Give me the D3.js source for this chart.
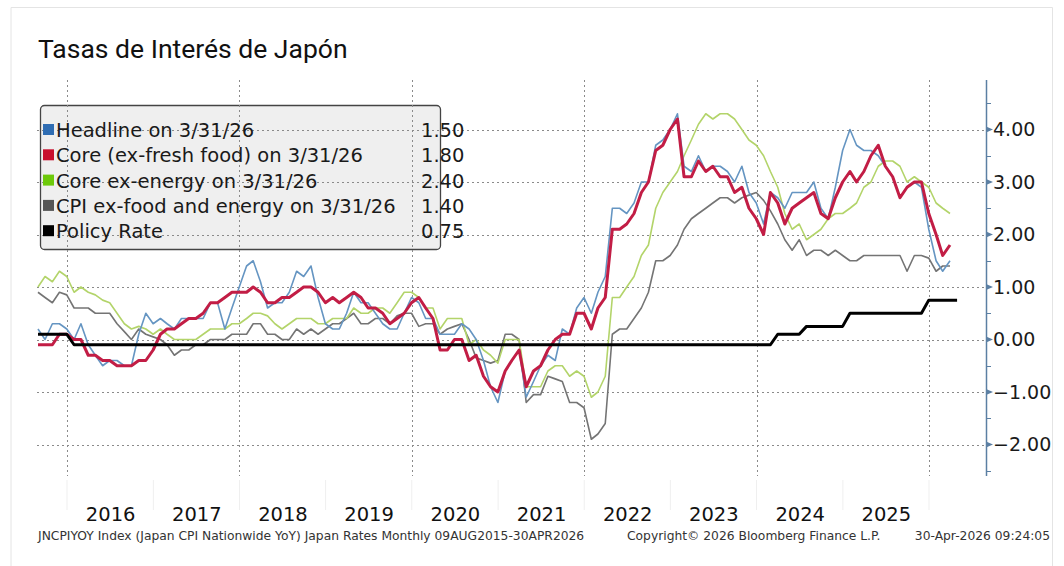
<!DOCTYPE html>
<html lang="es">
<head>
<meta charset="UTF-8">
<title>Tasas de Interés de Japón</title>
<script src="https://d3js.org/d3.v7.min.js"></script>
<style>
  body { margin: 0; background: #fff; }
  svg { display: block; }
</style>
</head>
<body>
<svg id="chart"></svg>
<script>
// monthly YoY readings, Aug 2015 .. Mar 2026 (plotted at month end)
const firstMonth = new Date(2015, 7, 1);

const headline = [
  0.2, 0.0, 0.3, 0.3, 0.2,
  0.0, 0.3, -0.1, -0.3, -0.5, -0.4, -0.4, -0.5, -0.5, 0.1, 0.5, 0.3,
  0.4, 0.3, 0.2, 0.4, 0.4, 0.4, 0.4, 0.7, 0.7, 0.2, 0.6, 1.0,
  1.4, 1.5, 1.1, 0.6, 0.7, 0.7, 0.9, 1.3, 1.2, 1.4, 0.8, 0.3,
  0.2, 0.2, 0.5, 0.9, 0.7, 0.7, 0.5, 0.3, 0.2, 0.2, 0.5, 0.8,
  0.7, 0.4, 0.4, 0.1, 0.1, 0.1, 0.3, 0.2, 0.0, -0.4, -0.9, -1.2,
  -0.6, -0.4, -0.2, -1.1, -0.8, -0.5, -0.3, -0.4, 0.2, 0.1, 0.6, 0.8,
  0.5, 0.9, 1.2, 2.5, 2.5, 2.4, 2.6, 3.0, 3.0, 3.7, 3.8, 4.0,
  4.3, 3.3, 3.2, 3.5, 3.2, 3.3, 3.3, 3.2, 3.0, 3.3, 2.8, 2.6,
  2.2, 2.8, 2.7, 2.5, 2.8, 2.8, 2.8, 3.0, 2.5, 2.3, 2.9, 3.6,
  4.0, 3.7, 3.6, 3.6, 3.5, 3.3, 3.1, 2.7, 2.9, 3.0, 2.9, 2.1,
  1.5, 1.3, 1.5
];

const coreExFresh = [
  -0.1, -0.1, -0.1, 0.1, 0.1,
  0.0, 0.0, -0.3, -0.3, -0.4, -0.4, -0.5, -0.5, -0.5, -0.4, -0.4, -0.2,
  0.1, 0.2, 0.2, 0.3, 0.4, 0.4, 0.5, 0.7, 0.7, 0.8, 0.9, 0.9,
  0.9, 1.0, 0.9, 0.7, 0.7, 0.8, 0.8, 0.9, 1.0, 1.0, 0.9, 0.7,
  0.8, 0.7, 0.8, 0.9, 0.8, 0.6, 0.6, 0.5, 0.3, 0.4, 0.5, 0.7,
  0.8, 0.6, 0.4, -0.2, -0.2, 0.0, 0.0, -0.4, -0.3, -0.7, -0.9, -1.0,
  -0.6, -0.4, -0.2, -0.9, -0.6, -0.5, -0.2, 0.0, 0.1, 0.1, 0.5, 0.5,
  0.2, 0.6, 0.8, 2.1, 2.1, 2.2, 2.4, 2.8, 3.0, 3.6, 3.7, 4.0,
  4.2, 3.1, 3.1, 3.4, 3.2, 3.3, 3.1, 3.1, 2.8, 2.9, 2.5, 2.3,
  2.0, 2.8, 2.6, 2.2, 2.5, 2.6, 2.7, 2.8, 2.4, 2.3, 2.7, 3.0,
  3.2, 3.0, 3.2, 3.5, 3.7, 3.3, 3.1, 2.7, 2.9, 3.0, 3.0, 2.4,
  2.0, 1.6, 1.8
];

const coreExEnergy = [
  1.0, 1.2, 1.1, 1.3, 1.2,
  0.9, 1.0, 0.9, 0.85, 0.75, 0.7, 0.5, 0.3, 0.2, 0.25, 0.2, 0.1,
  0.2, 0.1, 0.0, 0.0, 0.0, 0.0, 0.1, 0.2, 0.2, 0.2, 0.3, 0.3,
  0.4, 0.5, 0.5, 0.45, 0.3, 0.2, 0.3, 0.4, 0.4, 0.4, 0.3, 0.3,
  0.4, 0.4, 0.4, 0.6, 0.5, 0.5, 0.6, 0.6, 0.5, 0.7, 0.9, 0.9,
  0.8, 0.6, 0.6, 0.2, 0.4, 0.4, 0.4, -0.1, 0.0, -0.2, -0.3, -0.45,
  0.0, 0.0, 0.0, -0.9, -0.9, -0.9, -0.6, -0.5, -0.5, -0.7, -0.6, -0.7,
  -1.1, -1.0, -0.7, 0.8, 0.8, 1.0, 1.2, 1.6, 1.8, 2.5, 2.8, 3.0,
  3.2, 3.5, 3.8, 4.1, 4.3, 4.2, 4.3, 4.3, 4.2, 4.0, 3.8, 3.7,
  3.5, 3.2, 2.9, 2.4, 2.1, 2.2, 1.9, 2.0, 2.1, 2.3, 2.4, 2.4,
  2.5, 2.6, 2.9, 3.0, 3.3, 3.4, 3.4, 3.3, 3.0, 3.1, 3.0, 2.9,
  2.6, 2.5, 2.4
];

const exFoodEnergy = [
  0.9, 0.8, 0.7, 0.9, 0.85,
  0.6, 0.6, 0.6, 0.5, 0.5, 0.5, 0.3, 0.15, 0.0, 0.2, 0.1, 0.05,
  0.0, -0.1, -0.3, -0.2, -0.2, -0.1, -0.1, 0.0, 0.0, 0.0, 0.1, 0.1,
  0.1, 0.3, 0.3, 0.1, 0.1, 0.0, 0.0, 0.2, 0.1, 0.2, 0.1, 0.2,
  0.3, 0.3, 0.4, 0.5, 0.3, 0.3, 0.4, 0.4, 0.3, 0.45, 0.5, 0.5,
  0.25, 0.3, 0.3, 0.1, 0.2, 0.25, 0.3, 0.0, -0.35, -0.4, -0.45, -0.4,
  0.1, 0.1, 0.0, -1.2, -1.05, -1.05, -0.7, -0.75, -0.8, -1.2, -1.2, -1.3,
  -1.9, -1.8, -1.6, 0.1, 0.2, 0.2, 0.4, 0.6, 0.9, 1.5, 1.5, 1.6,
  1.8, 2.1, 2.3, 2.4, 2.5, 2.6, 2.7, 2.7, 2.6, 2.7, 2.75, 2.8,
  2.65, 2.45, 2.2, 1.9, 1.7, 1.9, 1.6, 1.7, 1.7, 1.6, 1.7, 1.6,
  1.5, 1.5, 1.6, 1.6, 1.6, 1.6, 1.6, 1.6, 1.3, 1.6, 1.6, 1.55,
  1.3, 1.4, 1.4
];

// BOJ policy rate, month-end values at each change
const policyRate = [
  ["2015-08", 0.1], ["2015-12", 0.1], ["2016-01", -0.1], ["2024-02", -0.1],
  ["2024-03", 0.1], ["2024-06", 0.1], ["2024-07", 0.25], ["2024-12", 0.25],
  ["2025-01", 0.5], ["2025-11", 0.5], ["2025-12", 0.75], ["2026-04", 0.75]
];

const yTicks = [-2, -1, 0, 1, 2, 3, 4];
const yMinorTicks = [-2.5, -1.5, -0.5, 0.5, 1.5, 2.5, 3.5, 4.5];
const yearLabels = [2016, 2017, 2018, 2019, 2020, 2021, 2022, 2023, 2024, 2025];
const gridYears = [2016, 2018, 2020, 2022, 2024, 2026];

const legendItems = [
  { label: "Headline on 3/31/26", value: "1.50", color: "#2f6db3" },
  { label: "Core (ex-fresh food) on 3/31/26", value: "1.80", color: "#c8102e" },
  { label: "Core ex-energy on 3/31/26", value: "2.40", color: "#6dc90a" },
  { label: "CPI ex-food and energy on 3/31/26", value: "1.40", color: "#555555" },
  { label: "Policy Rate", value: "0.75", color: "#000000" }
];

const W = 1064, H = 566;
const plot = { left: 37, right: 986, top: 80, bottom: 476 };

const svg = d3.select("#chart").attr("width", W).attr("height", H);

const x = d3.scaleTime()
  .domain([new Date(2016, 0, 1), new Date(2026, 0, 1)])
  .range([67, 929]);
const y = d3.scaleLinear().domain([0, 4]).range([339.5, 129.5]);

const monthEnd = i => d3.timeDay.offset(d3.timeMonth.offset(firstMonth, i + 1), -1);
const parseMonth = d3.timeParse("%Y-%m");

// outer frame
svg.append("path")
  .attr("d", `M11,${H} V7.5 H1052.5 V${H}`)
  .attr("fill", "none")
  .attr("stroke", "#e4e4e4")
  .attr("stroke-width", 1);

// title
svg.append("text")
  .attr("x", 38).attr("y", 58)
  .attr("font-family", "Roboto, sans-serif")
  .attr("font-size", 26.5)
  .attr("fill", "#111")
  .text("Tasas de Interés de Japón");

// legend box (grid shows through it)
const lg = { x: 40.5, y: 105.5, w: 400, h: 144 };
svg.append("rect")
  .attr("x", lg.x).attr("y", lg.y).attr("width", lg.w).attr("height", lg.h)
  .attr("rx", 4)
  .attr("fill", "#efefef")
  .attr("stroke", "#444")
  .attr("stroke-width", 1.3);

// grid
const grid = svg.append("g").attr("stroke", "#8a8a8a").attr("stroke-width", 1)
  .attr("stroke-dasharray", "2,3").attr("fill", "none");
grid.selectAll("line.h").data(yTicks).join("line")
  .attr("class", "h")
  .attr("x1", plot.left).attr("x2", plot.right)
  .attr("y1", d => Math.round(y(d)) + 0.5).attr("y2", d => Math.round(y(d)) + 0.5);
grid.selectAll("line.v").data(gridYears).join("line")
  .attr("class", "v")
  .attr("x1", d => Math.round(x(new Date(d, 0, 1))) + 0.5)
  .attr("x2", d => Math.round(x(new Date(d, 0, 1))) + 0.5)
  .attr("y1", plot.top).attr("y2", plot.bottom);

// legend entries
const legendRows = svg.append("g").selectAll("g").data(legendItems).join("g")
  .attr("transform", (d, i) => `translate(0,${130 + i * 25.3})`);
legendRows.append("rect")
  .attr("x", 43).attr("y", -6).attr("width", 11).attr("height", 11)
  .attr("fill", d => d.color);
legendRows.append("text")
  .attr("x", 56).attr("y", 0).attr("dy", "0.36em")
  .attr("font-family", "DejaVu Sans, sans-serif")
  .attr("font-size", 19.5)
  .attr("fill", "#1a1a1a")
  .text(d => d.label);
legendRows.append("text")
  .attr("x", 421).attr("y", 0).attr("dy", "0.36em")
  .attr("font-family", "DejaVu Sans, sans-serif")
  .attr("font-size", 19.5)
  .attr("fill", "#1a1a1a")
  .text(d => d.value);

// series
svg.append("clipPath").attr("id", "plotClip").append("rect")
  .attr("x", plot.left).attr("y", plot.top)
  .attr("width", plot.right - plot.left).attr("height", plot.bottom - plot.top);

const monthly = d3.line().x((d, i) => x(monthEnd(i))).y(d => y(d));
const lines = svg.append("g").attr("clip-path", "url(#plotClip)").attr("fill", "none")
  .attr("stroke-linejoin", "round");

lines.append("path").datum(exFoodEnergy).attr("d", monthly)
  .attr("stroke", "#747474").attr("stroke-width", 1.6);
lines.append("path").datum(coreExEnergy).attr("d", monthly)
  .attr("stroke", "#b3d46a").attr("stroke-width", 1.6);
lines.append("path").datum(headline).attr("d", monthly)
  .attr("stroke", "#6595c2").attr("stroke-width", 1.6);
lines.append("path").datum(coreExFresh).attr("d", monthly)
  .attr("stroke", "#c21d45").attr("stroke-width", 3);

const policyLine = d3.line()
  .x(d => x(d3.timeDay.offset(d3.timeMonth.offset(parseMonth(d[0]), 1), -1)))
  .y(d => y(d[1]));
lines.append("path").datum(policyRate).attr("d", policyLine)
  .attr("stroke", "#000").attr("stroke-width", 3);

// right axis
const axisColor = "#5b7fa3";
const ax = svg.append("g");
ax.append("line")
  .attr("x1", plot.right + 0.5).attr("x2", plot.right + 0.5)
  .attr("y1", plot.top).attr("y2", plot.bottom)
  .attr("stroke", axisColor).attr("stroke-width", 1.5);
ax.selectAll("line.minor").data(yMinorTicks).join("line")
  .attr("class", "minor")
  .attr("x1", plot.right).attr("x2", plot.right + 5)
  .attr("y1", d => Math.round(y(d)) + 0.5).attr("y2", d => Math.round(y(d)) + 0.5)
  .attr("stroke", axisColor).attr("stroke-width", 1);
ax.selectAll("path.major").data(yTicks).join("path")
  .attr("class", "major")
  .attr("d", d => { const yy = y(d); return `M${plot.right},${yy - 3} L${plot.right + 7},${yy} L${plot.right},${yy + 3} Z`; })
  .attr("fill", axisColor);
ax.selectAll("text").data(yTicks).join("text")
  .attr("x", plot.right + 7).attr("y", d => y(d)).attr("dy", "0.36em")
  .attr("font-family", "DejaVu Sans, sans-serif")
  .attr("font-size", 19)
  .attr("fill", "#1a1a1a")
  .text(d => d3.format(".2f")(d));

// year separators below plot
svg.append("g").selectAll("line").data(d3.range(2016, 2027)).join("line")
  .attr("x1", d => x(new Date(d, 0, 1))).attr("x2", d => x(new Date(d, 0, 1)))
  .attr("y1", 480).attr("y2", 510)
  .attr("stroke", "#efefef");

// x axis year labels (centred mid-year)
const xAxis = d3.axisBottom(x)
  .tickValues(yearLabels.map(yr => new Date(yr, 6, 2)))
  .tickFormat(d3.timeFormat("%Y"))
  .tickSize(0);
const xg = svg.append("g").attr("transform", "translate(0,500)").call(xAxis);
xg.select(".domain").remove();
xg.selectAll("text")
  .attr("font-family", "DejaVu Sans, sans-serif")
  .attr("font-size", 19.5)
  .attr("fill", "#111")
  .attr("dy", "0.9em");

// footer
const foot = svg.append("g")
  .attr("font-family", "DejaVu Sans, sans-serif")
  .attr("font-size", 12.3)
  .attr("fill", "#333");
foot.append("text").attr("x", 38).attr("y", 540)
  .text("JNCPIYOY Index (Japan CPI Nationwide YoY) Japan Rates Monthly 09AUG2015-30APR2026");
foot.append("text").attr("x", 627).attr("y", 540)
  .text("Copyright\u00A9 2026 Bloomberg Finance L.P.");
foot.append("text").attr("x", 1050).attr("y", 540).attr("text-anchor", "end")
  .text("30-Apr-2026 09:24:05");
</script>
</body>
</html>
